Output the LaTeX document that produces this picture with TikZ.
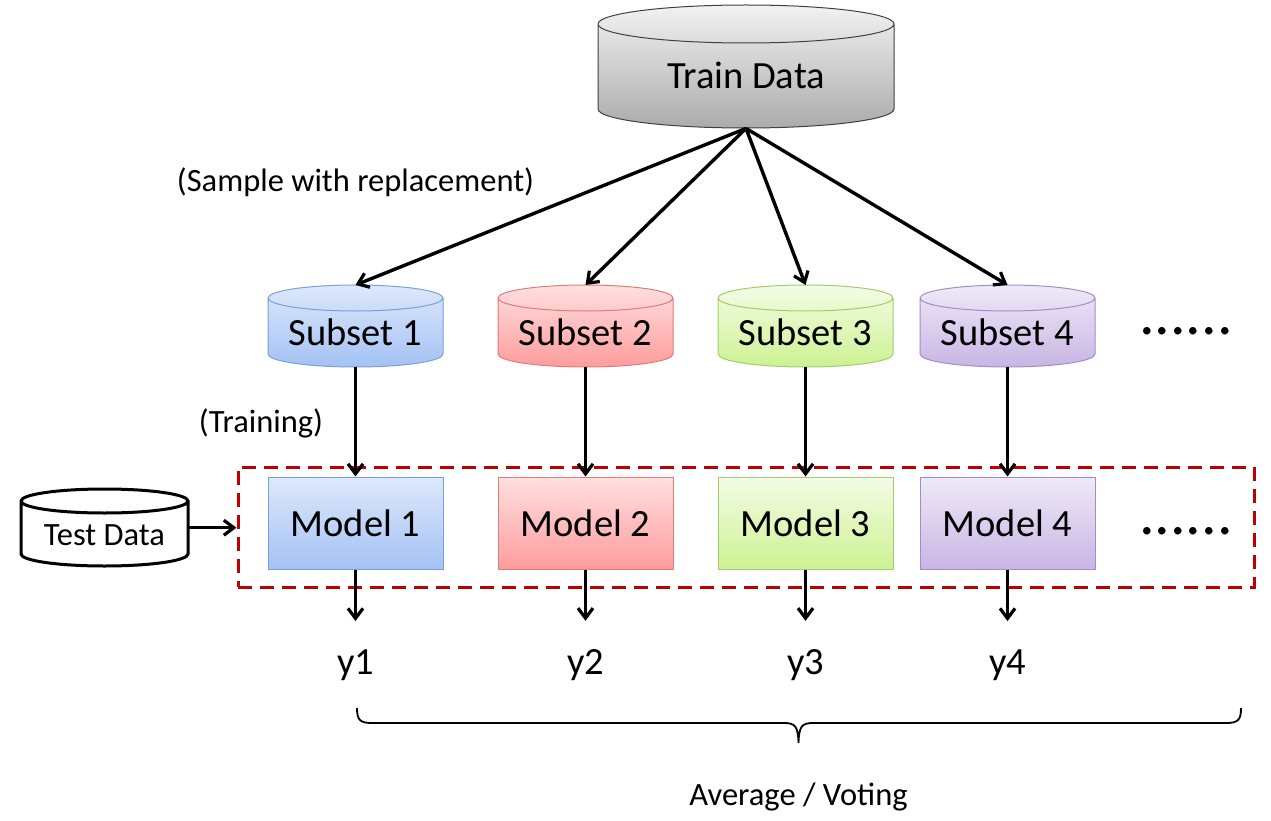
\documentclass[tikz,border=0pt]{standalone}
\usepackage{fontspec}
\setmainfont{Carlito}
\usetikzlibrary{arrows.meta}
\definecolor{bT}{HTML}{DDE8FB}\definecolor{bB}{HTML}{A4C2F4}\definecolor{bD}{HTML}{7BA0D8}
\definecolor{rT}{HTML}{FFE0E0}\definecolor{rB}{HTML}{FF9C9C}\definecolor{rD}{HTML}{E07B7B}
\definecolor{gT}{HTML}{F4FCE6}\definecolor{gB}{HTML}{CCF292}\definecolor{gD}{HTML}{A4CC6C}
\definecolor{pT}{HTML}{EFEAF7}\definecolor{pB}{HTML}{C8B5E4}\definecolor{pD}{HTML}{A48CCB}
\definecolor{kT}{HTML}{F2F2F2}\definecolor{kB}{HTML}{ABABAB}\definecolor{kD}{HTML}{404040}
\definecolor{dred}{HTML}{C00000}
% #1 name, #2 cx, #3 top, #4 bottom, #5 half width, #6 ry, #7 fill style, #8 draw style
\newcommand\mycyl[8]{%
  \path[#7] (#2-#5,#3+#6) -- (#2-#5,#4-#6) arc[start angle=180,end angle=0,x radius=#5,y radius=#6]
     -- (#2+#5,#3+#6) arc[start angle=0,end angle=-180,x radius=#5,y radius=#6] -- cycle;
  \draw[#8] (#2-#5,#3+#6) -- (#2-#5,#4-#6) arc[start angle=180,end angle=0,x radius=#5,y radius=#6]
     -- (#2+#5,#3+#6) arc[start angle=0,end angle=-180,x radius=#5,y radius=#6] -- cycle
     (#2-#5,#3+#6) arc[start angle=180,end angle=0,x radius=#5,y radius=#6];
  \node[inner sep=0pt, minimum width=2*#5 pt, minimum height=#4-#3 pt, anchor=north] (#1) at (#2,#3) {};
}
\begin{document}
\begin{tikzpicture}[x=1pt,y=-1pt,
  big/.style={font=\fontsize{38.5}{42}\selectfont, inner sep=0pt},
  mid/.style={font=\fontsize{32.5}{36}\selectfont, inner sep=0pt},
  dots/.style={font=\fontsize{62}{64}\selectfont, inner sep=0pt},
  arr/.style={line width=3.4pt, -{Straight Barb[length=10pt,width=15pt,line width=3.2pt]}},
  model/.style={draw, line width=1pt, minimum width=175pt, minimum height=92pt, inner sep=0pt, font=\fontsize{38.5}{42}\selectfont},
]
\useasboundingbox (0,0) rectangle (1271,821);

% Train data
\mycyl{td}{746}{5}{128}{148}{19}{top color=kT,bottom color=kB}{kD,line width=1pt}
\node[big, anchor=base] (tdt) at (746,89) {Train Data};

% Subsets
\mycyl{s1}{355.5}{285}{367}{87.5}{13}{top color=bT,bottom color=bB}{bD,line width=1pt}
\mycyl{s2}{585.5}{285}{367}{87.5}{13}{top color=rT,bottom color=rB}{rD,line width=1pt}
\mycyl{s3}{805.5}{285}{367}{87.5}{13}{top color=gT,bottom color=gB}{gD,line width=1pt}
\mycyl{s4}{1007.5}{285}{367}{87.5}{13}{top color=pT,bottom color=pB}{pD,line width=1pt}
\node[big, anchor=base] (s1t) at (355.5,345) {Subset 1};
\node[big, anchor=base] (s2t) at (585.5,345) {Subset 2};
\node[big, anchor=base] (s3t) at (805.5,345) {Subset 3};
\node[big, anchor=base] (s4t) at (1007.5,345) {Subset 4};
\node[dots, anchor=base] (d1) at (1186,334) {......};

% ensemble frame
\node[draw=dred, line width=3pt, dash pattern=on 14pt off 8pt, minimum width=1016pt, minimum height=120pt, inner sep=0pt] (ens) at (746,527) {};

% Models
\node[model, top color=bT, bottom color=bB, draw=bD] (m1) at (355.5,523) {Model 1};
\node[model, top color=rT, bottom color=rB, draw=rD] (m2) at (585.5,523) {Model 2};
\node[model, top color=gT, bottom color=gB, draw=gD] (m3) at (805.5,523) {Model 3};
\node[model, top color=pT, bottom color=pB, draw=pD] (m4) at (1007.5,523) {Model 4};
\node[dots, anchor=base] (d2) at (1186,534) {......};

% Test data
\mycyl{test}{104.5}{489}{566}{83.5}{12}{fill=white}{black,line width=3pt}
\node[mid, anchor=base] (testt) at (104.5,545) {Test Data};

% outputs
\node[big, anchor=base] (y1) at (355.5,674) {y1};
\node[big, anchor=base] (y2) at (585.5,674) {y2};
\node[big, anchor=base] (y3) at (805.5,674) {y3};
\node[big, anchor=base] (y4) at (1007.5,674) {y4};

% labels
\node[mid, anchor=base] (lab1) at (355.5,192) {(Sample with replacement)};
\node[mid, anchor=base] (lab2) at (261,432) {(Training)};
\node[mid, anchor=base] (lab3) at (798.5,805) {Average / Voting};

% arrows
\foreach \s in {s1,s2,s3,s4} \draw[arr] (td.south) -- (\s.north);
\foreach \i in {1,2,3,4} {
  \draw[arr] (s\i.south) -- (m\i.north);
  \draw[arr, shorten >=28pt] (m\i.south) -- (y\i.north);
}
\draw[arr] (test.east) -- (test.east -| ens.west);

% brace
\draw[line width=1.8pt] (357,708) .. controls (357,720) and (360,723) .. (372,723) -- (784,723)
   .. controls (795,723) and (798,726) .. (798.5,743)
   .. controls (799,726) and (802,723) .. (813,723) -- (1226,723)
   .. controls (1238,723) and (1241,720) .. (1241,708);
\end{tikzpicture}
\end{document}
